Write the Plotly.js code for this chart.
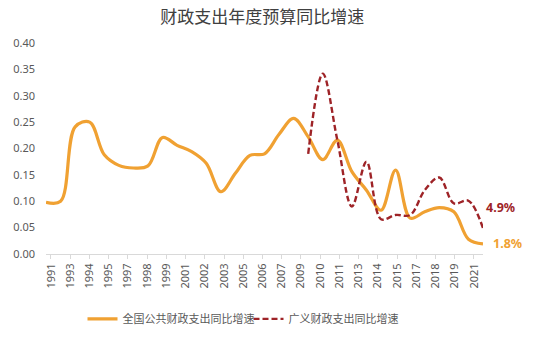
<!DOCTYPE html>
<html>
<head>
<meta charset="utf-8">
<script src="https://cdn.plot.ly/plotly-3.0.1.min.js"></script>
<style>html,body{margin:0;padding:0;background:#fff;}#chart{width:550px;height:341px;}</style>
</head>
<body>
<div id="chart"></div>
<script>
// Data
const years = [1991,1992,1993,1994,1995,1996,1997,1998,1999,2000,2001,2002,2003,2004,2005,2006,2007,2008,2009,2010,2011,2012,2013,2014,2015,2016,2017,2018,2019,2020,2021];
const publicGrowth = [0.098,0.100,0.241,0.250,0.188,0.168,0.163,0.167,0.221,0.206,0.194,0.172,0.118,0.153,0.187,0.190,0.227,0.257,0.222,0.179,0.216,0.156,0.121,0.083,0.159,0.068,0.080,0.088,0.080,0.028,0.019];
const broadYears = [2009,2010,2011,2012,2013,2014,2015,2016,2017,2018,2019,2020,2021];
const broadGrowth = [0.190,0.342,0.216,0.090,0.175,0.066,0.074,0.074,0.121,0.145,0.096,0.101,0.049];
const tickLabels = ['1991','1993','1994','1995','1997','1998','1999','2001','2002','2003','2005','2006','2007','2009','2010','2011','2013','2014','2015','2017','2018','2019','2021'];
const seriesNames = ['全国公共财政支出同比增速','广义财政支出同比增速'];
const endLabels = ['1.8%','4.9%'];
const titleText = '财政支出年度预算同比增速';

const ORANGE = '#F0A132';
const RED = '#9E2327';
const tickStart = 1991.34, tickStep = 1.32;
const tickVals = tickLabels.map((_, i) => tickStart + i * tickStep);

const traces = [
  {x: years, y: publicGrowth, name: seriesNames[0], type: 'scatter', mode: 'lines',
   line: {color: ORANGE, width: 3.2, shape: 'spline', smoothing: 1}},
  {x: broadYears, y: broadGrowth, name: seriesNames[1], type: 'scatter', mode: 'lines',
   line: {color: RED, width: 2.4, shape: 'spline', smoothing: 1, dash: '6px,3px'}}
];

const layout = {
  width: 550, height: 341,
  margin: {l: 46, r: 67, t: 43, b: 87},
  paper_bgcolor: '#fff', plot_bgcolor: '#fff',
  font: {family: 'Noto Sans, Noto Sans CJK SC, sans-serif', color: '#595959'},
  title: {text: titleText, x: 0.477, xref: 'container', xanchor: 'center', y: 0.95, yref: 'container', yanchor: 'middle',
          font: {family: 'Noto Sans CJK SC, sans-serif', size: 17, color: '#404040'}},
  xaxis: {type: 'linear', range: [1991, 2021], tickvals: tickVals, ticktext: tickLabels, tickangle: -90,
          showgrid: false, zeroline: false, showline: true, linecolor: '#D9D9D9', linewidth: 1,
          ticks: 'outside', ticklen: 4, tickcolor: '#D9D9D9', tickfont: {size: 11, color: '#595959'}},
  yaxis: {range: [0, 0.40], dtick: 0.05, tickformat: '.2f', showgrid: false, zeroline: false, showline: false,
          ticks: '', ticklabelstandoff: 10, tickfont: {size: 11, color: '#595959'}},
  showlegend: true,
  legend: {orientation: 'h', xref: 'container', yref: 'container', x: 0.15, xanchor: 'left', y: 0.065, yanchor: 'middle',
           font: {family: 'Noto Sans CJK SC, sans-serif', size: 11, color: '#595959'}, itemwidth: 30, tracegroupgap: 0,
           entrywidth: 121, entrywidthmode: 'pixels'},
  annotations: [
    {x: years[years.length-1], y: publicGrowth[publicGrowth.length-1], xref: 'x', yref: 'y', text: '<b>' + endLabels[0] + '</b>',
     showarrow: false, xanchor: 'left', yanchor: 'middle', xshift: 8, yshift: 0, font: {size: 12.5, color: ORANGE}},
    {x: broadYears[broadYears.length-1], y: broadGrowth[broadGrowth.length-1], xref: 'x', yref: 'y', text: '<b>' + endLabels[1] + '</b>',
     showarrow: false, xanchor: 'left', yanchor: 'middle', xshift: 1, yshift: 21, font: {size: 12.5, color: RED}}
  ]
};

Plotly.newPlot('chart', traces, layout, {displayModeBar: false, staticPlot: true});
</script>
</body>
</html>
